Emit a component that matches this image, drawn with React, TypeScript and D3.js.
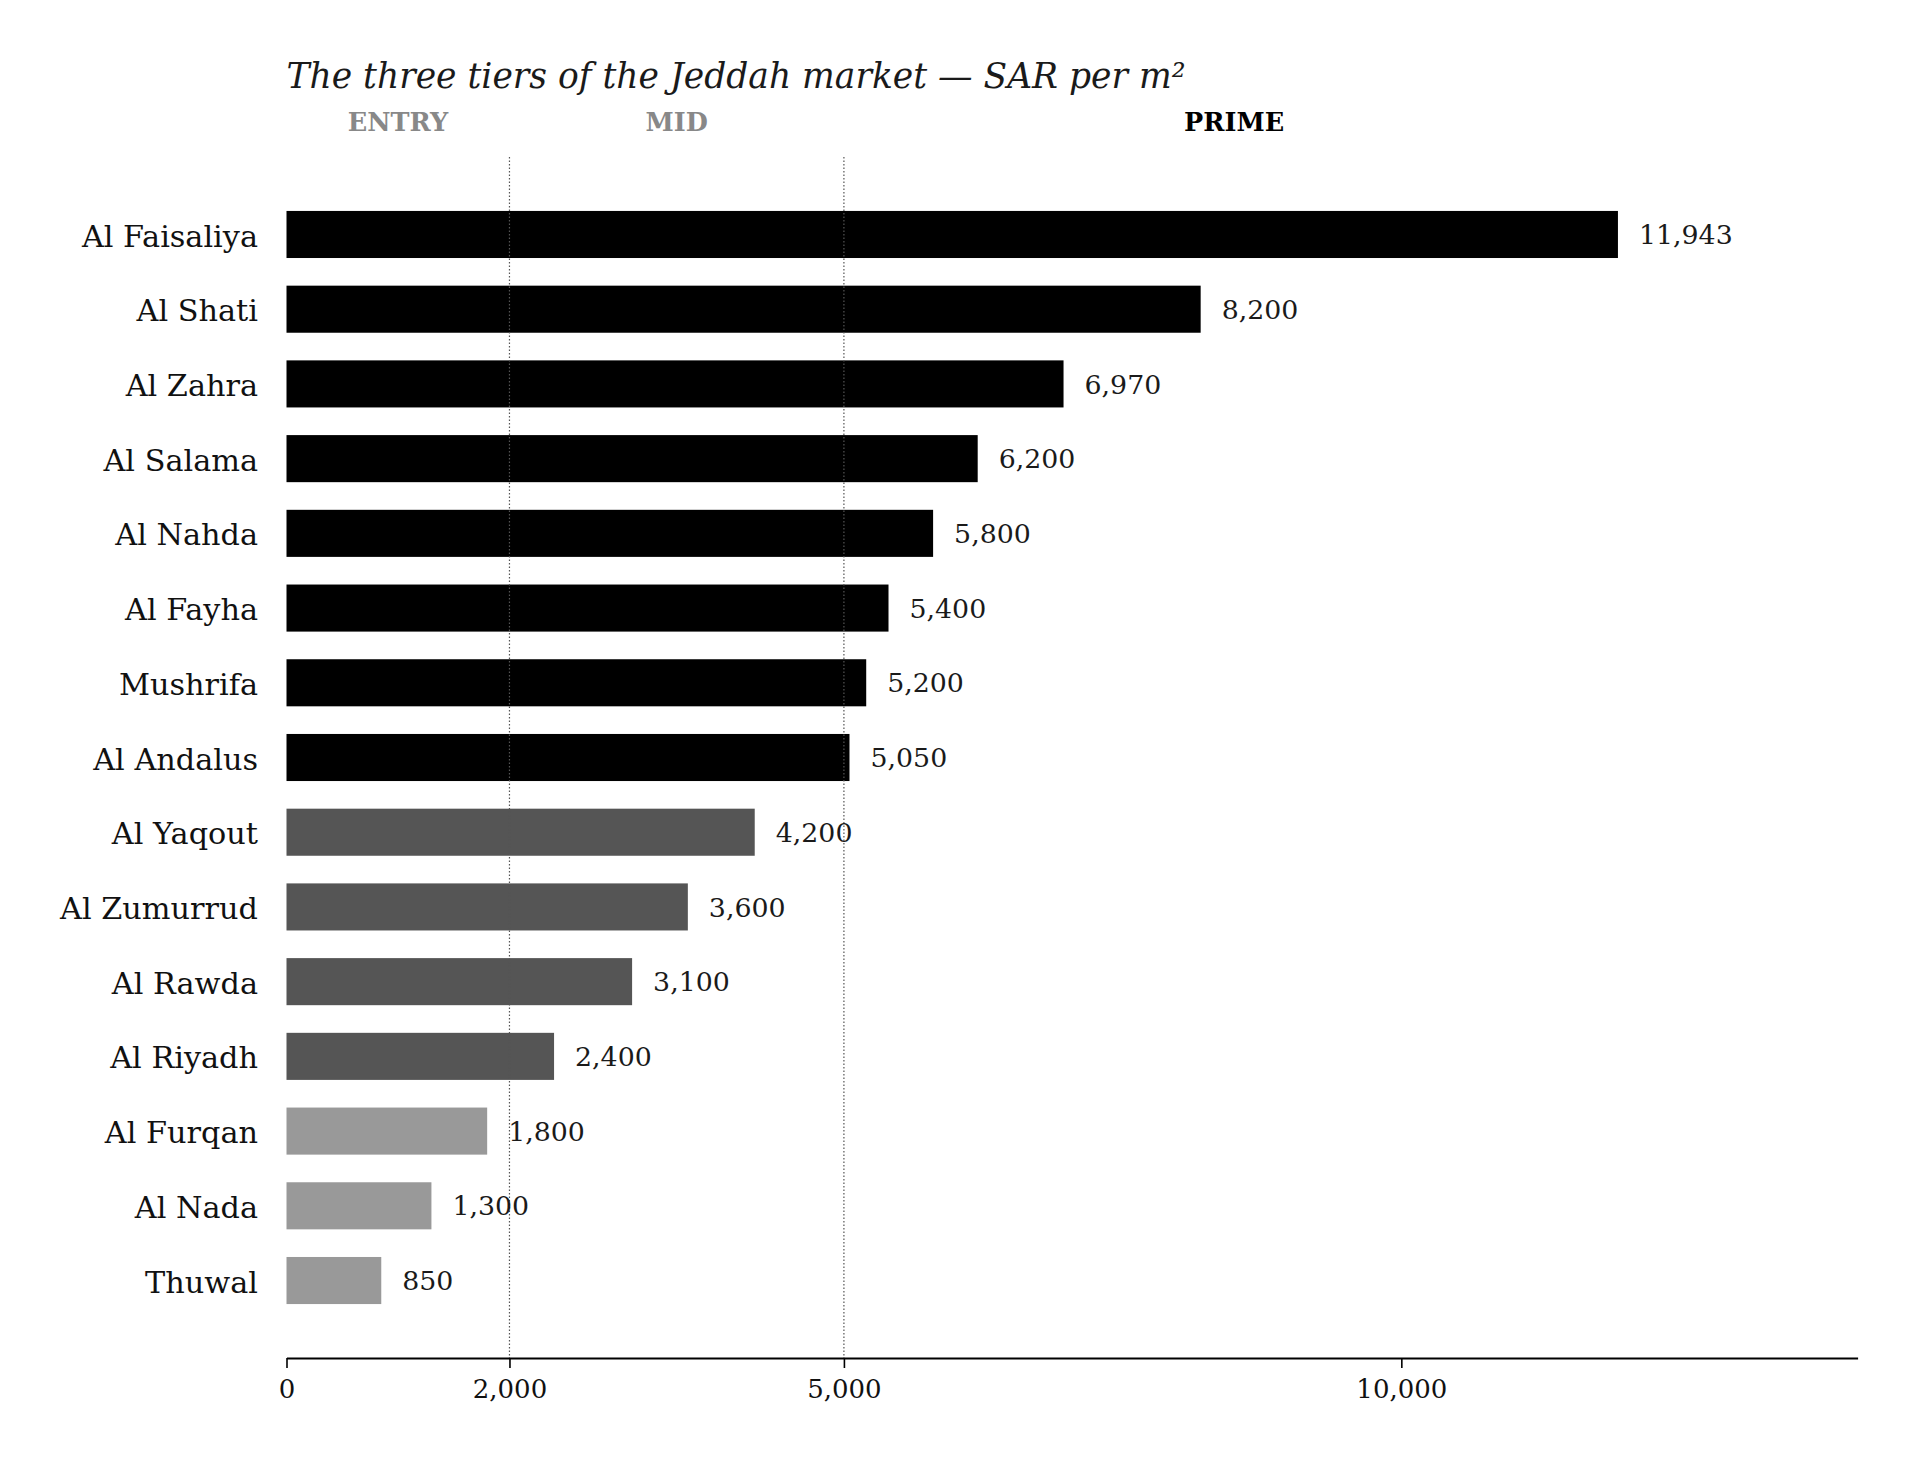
import React, { useRef, useEffect } from "react";
import * as d3 from "d3";

// neighbourhoods, top to bottom
const NEIGHBOURHOODS = [
  "Al Faisaliya",
  "Al Shati",
  "Al Zahra",
  "Al Salama",
  "Al Nahda",
  "Al Fayha",
  "Mushrifa",
  "Al Andalus",
  "Al Yaqout",
  "Al Zumurrud",
  "Al Rawda",
  "Al Riyadh",
  "Al Furqan",
  "Al Nada",
  "Thuwal",
];

// SAR per m²
const PRICES = [
  11943, 8200, 6970, 6200, 5800, 5400, 5200, 5050, 4200, 3600, 3100, 2400,
  1800, 1300, 850,
];

const TIER_NAMES = ["ENTRY", "MID", "PRIME"];
const TIER_BOUNDS = [0, 2000, 5000, 12000];
const TIER_BAR_COLORS = ["#999999", "#555555", "#000000"];
const TIER_LABEL_COLORS = ["#888888", "#888888", "#000000"];

const X_TICKS = [0, 2000, 5000, 10000];
const CUTOFFS = [2000, 5000];

const TITLE = "The three tiers of the Jeddah market — SAR per m²";

const WIDTH = 1920;
const HEIGHT = 1466;
const FONT = "'DejaVu Serif', serif";

function tierOf(v: number) {
  if (v < TIER_BOUNDS[1]) return 0;
  if (v < TIER_BOUNDS[2]) return 1;
  return 2;
}

export default function App() {
  const svgRef = useRef<SVGSVGElement>(null);

  useEffect(() => {
    if (!svgRef.current) return;

    const margin = { top: 157, left: 286.5, right: WIDTH - 1857.6, bottom: HEIGHT - 1358 };
    const x0 = margin.left;
    const x1 = WIDTH - margin.right;
    const y0 = margin.top;
    const y1 = HEIGHT - margin.bottom;

    d3.select(svgRef.current).selectAll("*").remove();
    const svg = d3.select(svgRef.current);

    const x = d3
      .scaleLinear()
      .domain([0, d3.max(PRICES)! * 1.18])
      .range([x0, x1]);

    const y = d3
      .scaleBand<string>()
      .domain(NEIGHBOURHOODS)
      .range([y0, y1])
      .paddingInner(0.37)
      .paddingOuter(0.722);

    // Title
    svg
      .append("text")
      .attr("x", x0)
      .attr("y", 88)
      .attr("font-family", FONT)
      .attr("font-style", "italic")
      .attr("font-size", 34.5)
      .attr("fill", "#1a1a1a")
      .text(TITLE);

    // Tier labels
    svg
      .selectAll(".tier")
      .data(TIER_NAMES)
      .join("text")
      .attr("class", "tier")
      .attr("x", (_, i) => x((TIER_BOUNDS[i] + TIER_BOUNDS[i + 1]) / 2))
      .attr("y", 130.5)
      .attr("text-anchor", "middle")
      .attr("font-family", FONT)
      .attr("font-weight", "bold")
      .attr("font-size", 25.5)
      .attr("fill", (_, i) => TIER_LABEL_COLORS[i])
      .text((d) => d);

    // Bars
    svg
      .selectAll(".bar")
      .data(PRICES)
      .join("rect")
      .attr("class", "bar")
      .attr("x", x(0))
      .attr("y", (_, i) => y(NEIGHBOURHOODS[i])!)
      .attr("width", (d) => x(d) - x(0))
      .attr("height", y.bandwidth())
      .attr("fill", (d) => TIER_BAR_COLORS[tierOf(d)]);

    // Tier cut-off lines (on top of bars)
    svg
      .selectAll(".cutoff")
      .data(CUTOFFS)
      .join("line")
      .attr("class", "cutoff")
      .attr("x1", (d) => x(d))
      .attr("x2", (d) => x(d))
      .attr("y1", y0)
      .attr("y2", y1)
      .attr("stroke", "#555555")
      .attr("stroke-width", 1.2)
      .attr("stroke-dasharray", "1.5,2");

    // Value labels
    svg
      .selectAll(".val")
      .data(PRICES)
      .join("text")
      .attr("class", "val")
      .attr("x", (d) => x(d) + 21)
      .attr("y", (_, i) => y(NEIGHBOURHOODS[i])! + y.bandwidth() / 2)
      .attr("dy", "0.36em")
      .attr("font-family", FONT)
      .attr("font-size", 26.8)
      .attr("fill", "#1a1a1a")
      .text((d) => d3.format(",")(d));

    // Category labels
    svg
      .selectAll(".cat")
      .data(NEIGHBOURHOODS)
      .join("text")
      .attr("class", "cat")
      .attr("x", x0 - 28.5)
      .attr("y", (d) => y(d)! + y.bandwidth() / 2)
      .attr("dy", "0.4em")
      .attr("text-anchor", "end")
      .attr("font-family", FONT)
      .attr("font-size", 30.3)
      .attr("fill", "#111111")
      .text((d) => d);

    // X axis
    const xAxis = svg
      .append("g")
      .attr("transform", `translate(0,${y1})`)
      .call(
        d3
          .axisBottom(x)
          .tickValues(X_TICKS)
          .tickFormat((d) => d3.format(",")(d as number))
          .tickSize(10)
          .tickSizeOuter(0)
          .tickPadding(12)
      );
    xAxis.select(".domain").attr("stroke", "#000").attr("stroke-width", 2);
    xAxis.selectAll(".tick line").attr("stroke", "#000").attr("stroke-width", 1.6);
    xAxis
      .selectAll(".tick text")
      .attr("font-family", FONT)
      .attr("font-size", 26)
      .attr("fill", "#111");
  }, []);

  return (
    <svg
      ref={svgRef}
      width={WIDTH}
      height={HEIGHT}
      style={{ position: "absolute", left: 0, top: 0, background: "#fff" }}
    ></svg>
  );
}
